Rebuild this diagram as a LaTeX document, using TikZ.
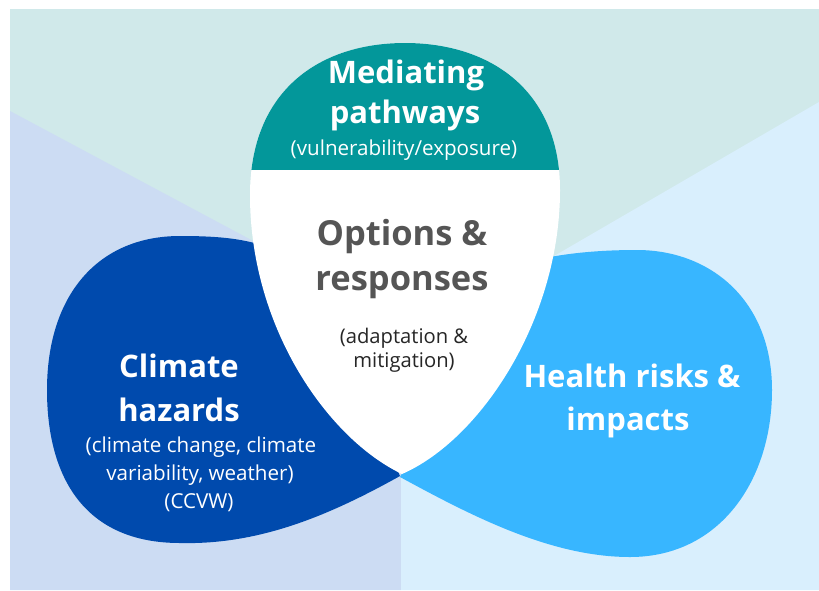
\documentclass[tikz,border=0pt]{standalone}
\usepackage{fontspec}
\setmainfont{Open Sans}
\definecolor{bgtop}{HTML}{D0E9EA}
\definecolor{bgleft}{HTML}{CCDCF3}
\definecolor{bgright}{HTML}{D9EFFD}
\definecolor{tealc}{HTML}{03979A}
\definecolor{hazardc}{HTML}{004AAD}
\definecolor{healthc}{HTML}{38B6FF}
\definecolor{optgray}{HTML}{555555}
\definecolor{adtext}{HTML}{262626}
\tikzset{
  lbl/.style={inner sep=0pt, anchor=base},
  titlew/.style={lbl, text=white, font=\fontsize{31}{36}\selectfont\bfseries},
  subw/.style={lbl, text=white, font=\fontsize{20.6}{24}\selectfont},
  titleg/.style={lbl, text=optgray, font=\fontsize{34.5}{38}\selectfont\bfseries},
  subd/.style={lbl, text=adtext, font=\fontsize{20.2}{24}\selectfont},
}
\begin{document}
\begin{tikzpicture}[x=1pt,y=-1pt]
\useasboundingbox (0,0) rectangle (819,590);
% background sectors
\fill[bgtop] (10,9) rectangle (819,590);
\fill[bgleft] (10,111) -- (401,320) -- (401,590) -- (10,590) -- cycle;
\fill[bgright] (819,102) -- (401,345) -- (401,590) -- (819,590) -- cycle;
% climate hazards blob
\fill[hazardc] (400,476) .. controls (330,515) and (260,545) .. (180,543)
  .. controls (85,543) and (47,478) .. (47,390)
  .. controls (47,295) and (98,236) .. (180,236)
  .. controls (215,236) and (240,238) .. (265,246)
  -- (330,320) -- cycle;
% health blob
\fill[healthc] (400,477) .. controls (470,515) and (550,557) .. (630,557)
  .. controls (720,557) and (772,480) .. (772,390)
  .. controls (772,300) and (710,250) .. (637,250)
  .. controls (600,250) and (570,253) .. (545,258)
  -- (480,330) -- cycle;
% drop shape
\fill[white] (402,474) .. controls (330,440) and (250,330) .. (250,195)
  .. controls (250,90) and (320,43) .. (405,43)
  .. controls (490,43) and (560,90) .. (560,190)
  .. controls (560,320) and (480,440) .. (402,474) -- cycle;
\begin{scope}
\clip (402,474) .. controls (330,440) and (250,330) .. (250,195)
  .. controls (250,90) and (320,43) .. (405,43)
  .. controls (490,43) and (560,90) .. (560,190)
  .. controls (560,320) and (480,440) .. (402,474) -- cycle;
\fill[tealc] (200,0) rectangle (600,170);
\end{scope}
% texts
\node[titlew] (med1) at (406,83) {Mediating};
\node[titlew] (med2) at (405,123) {pathways};
\node[subw] (med3) at (404,155) {(vulnerability/exposure)};
\node[titleg] (opt1) at (402,245) {Options \&};
\node[titleg] (opt2) at (402,290) {responses};
\node[subd] (ad1) at (404,343) {(adaptation \&};
\node[subd] (ad2) at (404,367) {mitigation)};
\node[titlew] (cl1) at (179,377) {Climate};
\node[titlew] (cl2) at (179,421) {hazards};
\node[subw] (cl3) at (201,452) {(climate change, climate};
\node[subw] (cl4) at (200,480) {variability, weather)};
\node[subw] (cl5) at (199,508) {(CCVW)};
\node[titlew] (he1) at (632,387) {Health risks \&};
\node[titlew] (he2) at (628,430) {impacts};
\end{tikzpicture}
\end{document}
